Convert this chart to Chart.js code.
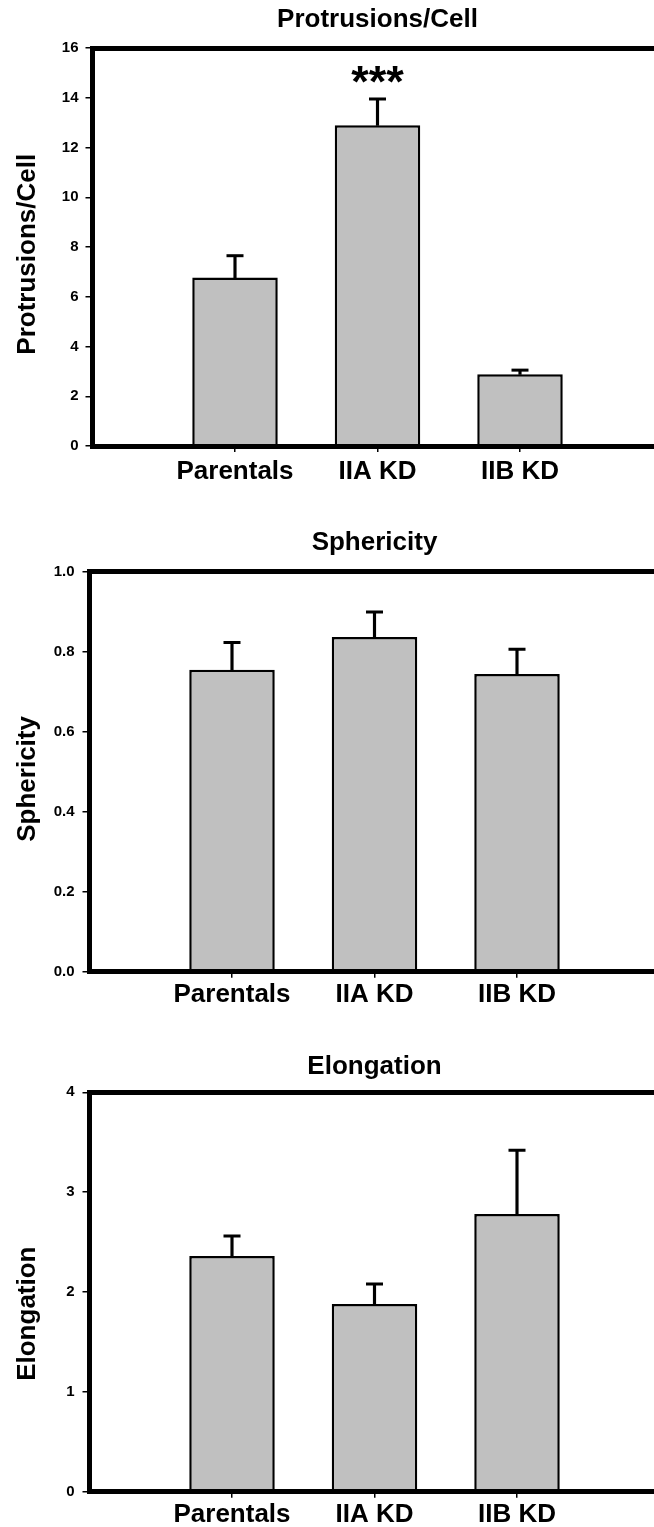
<!DOCTYPE html>
<html>
<head>
<meta charset="utf-8">
<script src="https://cdn.jsdelivr.net/npm/chart.js@4.4.1/dist/chart.umd.min.js"></script>
<style>
  html, body { margin: 0; padding: 0; background: #fff; overflow: hidden; width: 654px; height: 1527px; }
  .panel { position: absolute; left: 0; }
</style>
</head>
<body>
<canvas id="protChart" class="panel" width="680" height="500" style="top:0px"></canvas>
<canvas id="spherChart" class="panel" width="680" height="520" style="top:500px"></canvas>
<canvas id="elongChart" class="panel" width="680" height="507" style="top:1020px"></canvas>
<script>
// groups on the x axis
const groups = ['Parentals', 'IIA KD', 'IIB KD'];

// protrusions per cell
const protrusionMeans = [6.77, 12.89, 2.88];
const protrusionErrors = [0.88, 1.06, 0.17];
const protrusionMarks = ['', '***', ''];
const protrusionMarkLevel = 14.05;

// sphericity
const sphericityMeans = [0.755, 0.837, 0.744];
const sphericityErrors = [0.068, 0.062, 0.062];

// elongation
const elongationMeans = [2.36, 1.88, 2.78];
const elongationErrors = [0.20, 0.20, 0.64];

const FONT = '"Liberation Sans", Arial, Helvetica, sans-serif';

// draws the significance stars above the bars
const marksPlugin = {
  id: 'marks',
  afterDatasetsDraw(chart, args, opts) {
    if (!opts.labels) return;
    const { ctx, scales: { x, y } } = chart;
    ctx.save();
    ctx.font = 'bold 45px ' + FONT;
    ctx.textAlign = 'center';
    ctx.textBaseline = 'alphabetic';
    ctx.fillStyle = '#000';
    opts.labels.forEach((t, i) => {
      if (t) ctx.fillText(t, x.getPixelForValue(i + 1), y.getPixelForValue(opts.level));
    });
    ctx.restore();
  }
};

function panel(id, o) {
  const pad = arr => [null, ...arr, null];
  const tops = o.means.map((m, i) => m + o.errors[i]);

  return new Chart(document.getElementById(id), {
    data: {
      labels: ['', ...groups, ''],
      datasets: [
        {
          // error bar caps
          type: 'line',
          data: pad(tops),
          showLine: false,
          pointStyle: 'line',
          pointRadius: 8.5,
          pointBorderWidth: 3,
          pointBorderColor: '#000',
          pointBackgroundColor: '#000',
          order: 1
        },
        {
          // error bar stems
          type: 'bar',
          data: pad(o.means.map((m, i) => [m, tops[i]])),
          backgroundColor: '#000',
          barThickness: 2.5,
          grouped: false,
          order: 2
        },
        {
          type: 'bar',
          data: pad(o.means),
          backgroundColor: '#c0c0c0',
          borderColor: '#000',
          borderWidth: 2.5,
          barPercentage: 0.6,
          categoryPercentage: 1,
          order: 3
        }
      ]
    },
    options: {
      responsive: false,
      animation: false,
      layout: { padding: { left: 0, right: o.padRight, top: 0, bottom: 0 } },
      plugins: {
        legend: { display: false },
        tooltip: { enabled: false },
        title: {
          display: true,
          fullSize: false,
          text: o.title,
          color: '#000',
          font: { family: FONT, size: 26, weight: 'bold' },
          padding: { top: o.titleTop, bottom: o.titleBottom }
        },
        marks: { labels: o.marks, level: o.markLevel }
      },
      scales: {
        x: {
          type: 'category',
          offset: false,
          grid: {
            offset: false,
            drawOnChartArea: false,
            tickLength: 6,
            lineWidth: 1.5,
            color: c => (c.index > 0 && c.index < 4) ? '#000' : 'rgba(0,0,0,0)'
          },
          border: { display: true, color: '#000', width: 5, z: 1 },
          ticks: {
            autoSkip: false,
            maxRotation: 0,
            color: '#000',
            padding: o.xPad,
            font: { family: FONT, size: 26, weight: 'bold' }
          },
          afterFit: s => { s.height = o.xHeight; }
        },
        x2: {
          type: 'category',
          position: 'top',
          offset: false,
          grid: { display: false },
          ticks: { display: false },
          border: { display: true, color: '#000', width: 5, z: 1 },
          afterFit: s => { s.height = 0; }
        },
        y: {
          min: o.min,
          max: o.max,
          ticks: {
            stepSize: o.step,
            color: '#000',
            padding: o.yPad,
            font: { family: FONT, size: 15, weight: 'bold' },
            callback: v => o.fmt(v)
          },
          grid: { drawOnChartArea: false, tickLength: 7, color: '#000', lineWidth: 1.5 },
          border: { display: true, color: '#000', width: 5, z: 1 },
          title: {
            display: true,
            // trailing spaces nudge the rotated title down the axis like the original
            text: o.yTitle + ' '.repeat(o.yTitleNudge),
            color: '#000',
            font: { family: FONT, size: 26, weight: 'bold' },
            padding: { top: 12, bottom: 0 }
          },
          afterFit: s => { s.width = o.yWidth; }
        }
      }
    },
    plugins: [marksPlugin]
  });
}

panel('protChart', {
  title: 'Protrusions/Cell', yTitle: 'Protrusions/Cell', yTitleNudge: 2,
  means: protrusionMeans, errors: protrusionErrors,
  marks: protrusionMarks, markLevel: protrusionMarkLevel,
  min: 0, max: 16, step: 2, fmt: v => String(v),
  titleTop: 4.4, titleBottom: 12.4, xHeight: 54, xPad: 4.4,
  yWidth: 92.5, yPad: 7, padRight: 17.5
});

panel('spherChart', {
  title: 'Sphericity', yTitle: 'Sphericity', yTitleNudge: 2,
  means: sphericityMeans, errors: sphericityErrors,
  min: 0, max: 1, step: 0.2, fmt: v => v.toFixed(1),
  titleTop: 27.4, titleBottom: 13.1, xHeight: 48.3, xPad: 1.7,
  yWidth: 89.5, yPad: 8, padRight: 20.5
});

panel('elongChart', {
  title: 'Elongation', yTitle: 'Elongation', yTitleNudge: 6,
  means: elongationMeans, errors: elongationErrors,
  min: 0, max: 4, step: 1, fmt: v => String(v),
  titleTop: 31.1, titleBottom: 10, xHeight: 35.3, xPad: 1.7,
  yWidth: 89.5, yPad: 8, padRight: 20.5
});
</script>
</body>
</html>
